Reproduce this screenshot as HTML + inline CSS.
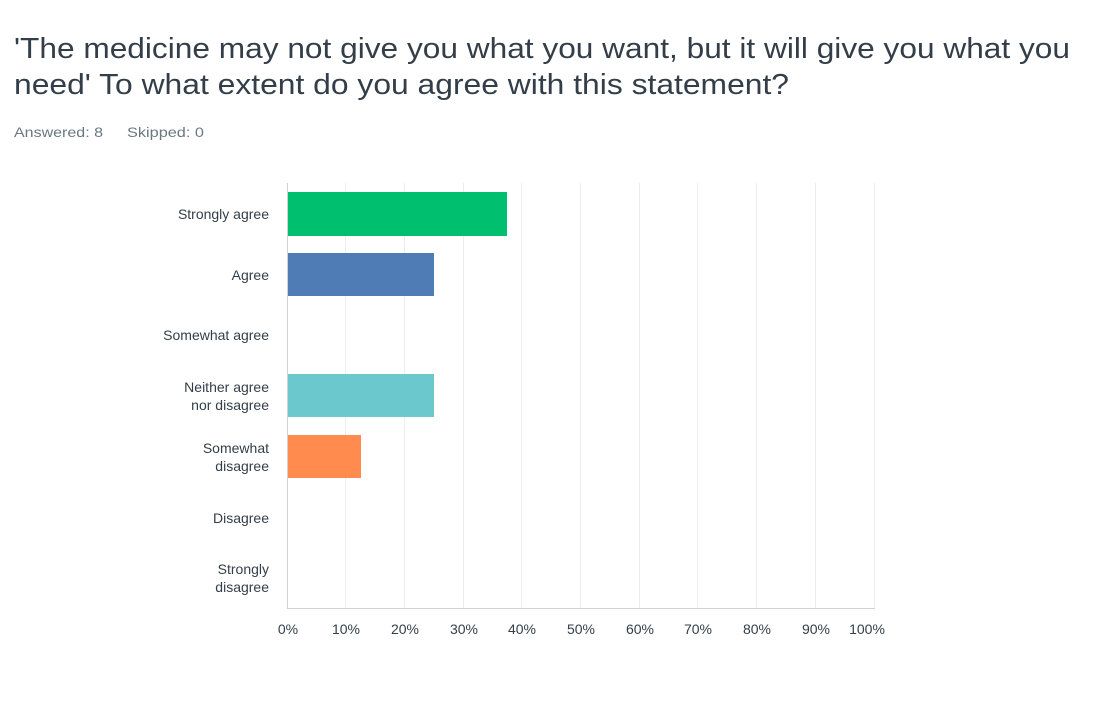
<!DOCTYPE html>
<html><head><meta charset="utf-8"><style>
html,body{margin:0;padding:0;background:#fff;width:1096px;height:719px;overflow:hidden}
svg text{font-family:"Liberation Sans",sans-serif}
</style></head><body>
<svg width="1096" height="719" xmlns="http://www.w3.org/2000/svg">
<text x="14" y="58" font-size="29" fill="#333e48" textLength="1056" lengthAdjust="spacingAndGlyphs">'The medicine may not give you what you want, but it will give you what you</text>
<text x="14" y="94" font-size="29" fill="#333e48" textLength="775" lengthAdjust="spacingAndGlyphs">need' To what extent do you agree with this statement?</text>
<text x="14" y="137" font-size="14" fill="#6b787f" textLength="89" lengthAdjust="spacingAndGlyphs">Answered: 8</text>
<text x="127" y="137" font-size="14" fill="#6b787f" textLength="77" lengthAdjust="spacingAndGlyphs">Skipped: 0</text>
<g stroke="#ecedee" stroke-width="1">
<line x1="345.5" y1="183" x2="345.5" y2="608"/><line x1="404.5" y1="183" x2="404.5" y2="608"/>
<line x1="463.5" y1="183" x2="463.5" y2="608"/><line x1="521.5" y1="183" x2="521.5" y2="608"/>
<line x1="580.5" y1="183" x2="580.5" y2="608"/><line x1="639.5" y1="183" x2="639.5" y2="608"/>
<line x1="697.5" y1="183" x2="697.5" y2="608"/><line x1="756.5" y1="183" x2="756.5" y2="608"/>
<line x1="815.5" y1="183" x2="815.5" y2="608"/><line x1="874.5" y1="183" x2="874.5" y2="608"/>
</g>
<line x1="287.5" y1="183" x2="287.5" y2="609" stroke="#d0d2d3"/>
<line x1="287" y1="608.5" x2="875" y2="608.5" stroke="#d0d2d3"/>
<rect x="288" y="192" width="219" height="44" fill="#00bf6f"/>
<rect x="288" y="253" width="146" height="43" fill="#507cb6"/>
<rect x="288" y="374" width="146" height="43" fill="#6bc8cd"/>
<rect x="288" y="435" width="73" height="43" fill="#ff8b4f"/>
<g font-size="14" fill="#333e48" text-anchor="end">
<text x="269" y="219">Strongly agree</text>
<text x="269" y="280">Agree</text>
<text x="269" y="340">Somewhat agree</text>
<text x="269" y="392">Neither agree</text>
<text x="269" y="410">nor disagree</text>
<text x="269" y="453">Somewhat</text>
<text x="269" y="471">disagree</text>
<text x="269" y="523">Disagree</text>
<text x="269" y="574">Strongly</text>
<text x="269" y="592">disagree</text>
</g>
<g font-size="14" fill="#333e48" text-anchor="middle">
<text x="288" y="634">0%</text><text x="346" y="634">10%</text><text x="405" y="634">20%</text>
<text x="464" y="634">30%</text><text x="522" y="634">40%</text><text x="581" y="634">50%</text>
<text x="640" y="634">60%</text><text x="698" y="634">70%</text><text x="757" y="634">80%</text>
<text x="816" y="634">90%</text><text x="867" y="634">100%</text>
</g>
</svg>
</body></html>
